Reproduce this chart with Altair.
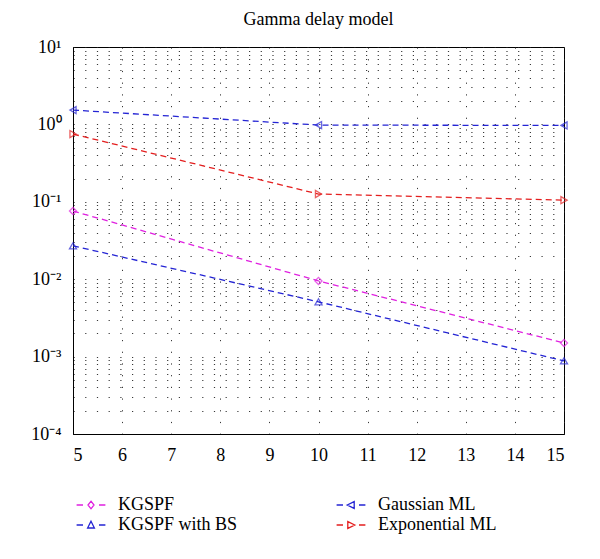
import altair as alt
import pandas as pd

# ---- data ----
x_vals = [5, 10, 15]
kgspf = [0.076, 0.0095, 0.0015]
kgspf_bs = [0.027, 0.0051, 0.00088]
gauss_ml = [1.53, 0.98, 0.97]
expo_ml = [0.75, 0.126, 0.105]

series_names = ["KGSPF", "Gaussian ML", "KGSPF with BS", "Exponential ML"]
series_colors = ["#e020e0", "#2424d4", "#2424d4", "#e41e1e"]
marker_shapes = ["diamond", "triangle-left", "triangle-up", "triangle-right"]

x_ticks = list(range(5, 16))
y_decades = [1e-4, 1e-3, 1e-2, 1e-1, 1e0, 1e1]
y_labels = ["10⁻⁴", "10⁻³", "10⁻²", "10⁻¹", "10⁰", "10¹"]
y_grid = [m * d for d in y_decades[:-1] for m in range(1, 10)] + [1e1]

title_text = "Gamma delay model"

# ---- build table ----
values = {
    "KGSPF": kgspf,
    "KGSPF with BS": kgspf_bs,
    "Gaussian ML": gauss_ml,
    "Exponential ML": expo_ml,
}
rows = []
for name in series_names:
    for xv, yv in zip(x_vals, values[name]):
        rows.append({"x": xv, "y": yv, "series": name})
df = pd.DataFrame(rows)

# legend symbols: dash - marker - dash (custom paths)
dl = "M-3.6,0L-2.0,0M2.0,0L3.6,0"
legend_paths = [
    dl + "M0,-0.95L0.75,0L0,0.95L-0.75,0Z",
    dl + "M-0.95,0L0.8,-0.85L0.8,0.85Z",
    dl + "M0,-0.95L0.85,0.75L-0.85,0.75Z",
    dl + "M0.95,0L-0.8,-0.85L-0.8,0.85Z",
]

label_expr = " : ".join(
    f"datum.value == {v!r} ? '{l}'" for v, l in zip(y_decades, y_labels)
) + " : ''"

font = "Liberation Serif"

xenc = alt.X(
    "x:Q",
    scale=alt.Scale(domain=[5, 15], nice=False),
    axis=alt.Axis(
        values=x_ticks, format="d", title=None, grid=True, ticks=False,
        labelPadding=12,
    ),
)
yenc = alt.Y(
    "y:Q",
    scale=alt.Scale(type="log", domain=[1e-4, 10], nice=False),
    axis=alt.Axis(
        values=y_grid, labelExpr=label_expr, title=None, grid=True,
        ticks=False, labelPadding=12, labelFlush=False, labelOverlap=False,
    ),
)

color_plain = alt.Color(
    "series:N",
    scale=alt.Scale(domain=series_names, range=series_colors),
    legend=None,
)

base = alt.Chart(df)

lines = base.mark_line(strokeDash=[6, 4], strokeWidth=1.3).encode(
    x=xenc, y=yenc, color=color_plain, detail="series:N"
)

points = base.mark_point(filled=False, size=50, strokeWidth=1.3).encode(
    x=xenc, y=yenc, color=color_plain,
    shape=alt.Shape(
        "series:N",
        scale=alt.Scale(domain=series_names, range=marker_shapes),
        legend=None,
    ),
)

leg = dict(
    title=None, orient="bottom", columns=2, columnPadding=95,
    rowPadding=2, labelFont=font, labelFontSize=18, labelColor="black",
    labelOffset=18, symbolOffset=9, offset=32, symbolSize=64,
    symbolStrokeWidth=1.3, symbolOpacity=1,
)

legend_layer = base.transform_filter("false").mark_point(
    filled=False, size=64, strokeWidth=1.3
).encode(
    x=xenc, y=yenc,
    color=alt.Color(
        "series:N",
        scale=alt.Scale(domain=series_names, range=series_colors),
        legend=alt.Legend(**leg),
    ),
    shape=alt.Shape(
        "series:N",
        scale=alt.Scale(domain=series_names, range=legend_paths),
        legend=alt.Legend(**leg),
    ),
)

chart = (
    alt.layer(lines, points, legend_layer)
    .resolve_scale(color="independent", shape="independent")
    .properties(
        width=491, height=387,
        title=alt.TitleParams(title_text, font=font, fontSize=18,
                              fontWeight="normal", color="black", offset=9),
        padding={"left": 22, "top": 3, "right": 10, "bottom": 5},
    )
    .configure_view(stroke="black", strokeWidth=1)
    .configure_axis(
        domainColor="black", domainWidth=1,
        labelFont=font, labelFontSize=18, labelColor="black",
        gridColor="#222222", gridDash=[1.2, 10.5], gridWidth=1, gridOpacity=0.9,
    )
    .configure_legend(labelFont=font, labelFontSize=18, labelColor="black")
)

chart.save("out.html", embed_options={"renderer": "svg", "actions": False})
